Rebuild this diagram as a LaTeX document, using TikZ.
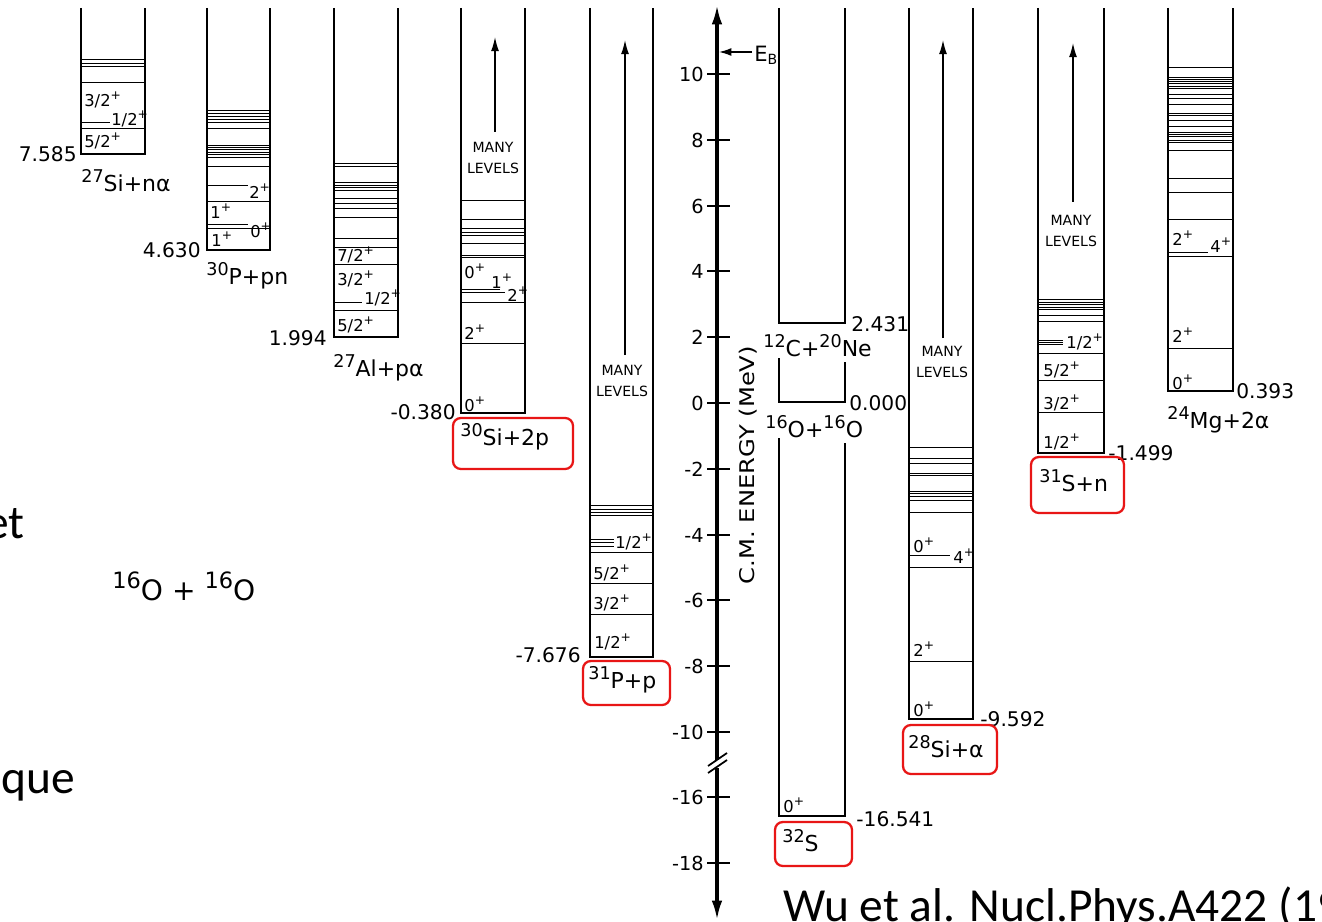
\documentclass[tikz,border=0pt]{standalone}
\usepackage{fontspec}
\setmainfont{DejaVu Sans}
\newfontfamily\slidefont{Carlito}
\newfontfamily\widefont[FakeStretch=1.2]{DejaVu Sans}
\usetikzlibrary{arrows.meta}
\definecolor{boxred}{RGB}{232,22,22}
\newcommand\fsLev{\fontsize{9.3}{10}\selectfont}
\newcommand\fsIso{\fontsize{12.5}{14}\selectfont}
\newcommand\fsNum{\fontsize{11.5}{13}\selectfont}
\newcommand\fsMany{\fontsize{8}{11.5}\selectfont}
\newcommand\fsTick{\fontsize{11}{12}\selectfont}
\newcommand\sps[1]{\raisebox{0.42em}{\scalebox{0.8}{#1}}}
\newcommand\pl{\raisebox{0.45em}{\scalebox{0.75}{+}}}
\newcommand\lvlcol[4]{%
  \draw[colline] (#1,8) -- (#1,#3) -- (#2,#3) -- (#2,8);
  \foreach \yy in {#4} \draw[lev] (#1,\yy) -- (#2,\yy);}
\newcommand\partlv[3]{%
  \foreach \yy in {#3} \draw[lev] (#1,\yy) -- (#2,\yy);}
\begin{document}
\begin{tikzpicture}[x=0.02cm,y=-0.02cm,
  colline/.style={line width=1.4pt, line join=miter},
  lev/.style={line width=0.5pt},
  spin/.style={font=\fsLev, inner sep=0pt, anchor=west},
  iso/.style={font=\fsIso, inner sep=0pt, anchor=west},
  num/.style={font=\fsNum, inner sep=0pt},
  many/.style={font=\fsMany, align=center, inner sep=0pt},
  redbox/.style={draw=boxred, line width=1.3pt, rounded corners=4.5pt},
  uparrow/.style={line width=0.8pt, -{Latex[length=8pt,width=4.5pt]}},
  axisline/.style={line width=1.8pt},
  tickline/.style={line width=1pt},
  ticklab/.style={font=\fsTick, inner sep=0pt, anchor=east},
  slide/.style={font=\slidefont\fontsize{27}{32}\selectfont, inner sep=0pt}]
\useasboundingbox (0,0) rectangle (1322,922);
\fill[white] (0,0) rectangle (1322,922);

% ---------- column 1: 27Si + n alpha
\lvlcol{81}{145}{154}{59,63,66,82,128}
\partlv{81}{110}{122}
\node[spin] (c1a) at (84,100) {3/2\pl};
\node[spin] (c1b) at (111,119) {1/2\pl};
\node[spin] (c1c) at (84,141) {5/2\pl};
\node[num, anchor=east] (n1) at (77,154) {7.585};
\node[iso] (l1) at (81,181) {\sps{27}Si+nα};

% ---------- column 2: 30P + pn
\lvlcol{207}{270}{250}{110,113,116,119,122,128,145,147,149,152,154,157,166,201,228}
\partlv{207}{248}{185,224}
\node[spin] (c2a) at (249,191) {2\pl};
\node[spin] (c2b) at (210,211) {1\pl};
\node[spin] (c2c) at (250,230) {0\pl};
\node[spin] (c2d) at (211,239) {1\pl};
\node[num, anchor=east] (n2) at (201,250) {4.630};
\node[iso] (l2) at (206,276) {\sps{30}P+pn};

% ---------- column 3: 27Al + p alpha
\lvlcol{334}{398}{337}{163,166,182,185,187,190,198,203,208,217,238,247,264,310}
\partlv{334}{362}{302}
\node[spin] (c3a) at (337,255) {7/2\pl};
\node[spin] (c3b) at (337,279) {3/2\pl};
\node[spin] (c3c) at (364,298) {1/2\pl};
\node[spin] (c3d) at (337,325) {5/2\pl};
\node[num, anchor=east] (n3) at (327,338) {1.994};
\node[iso] (l3) at (333,368) {\sps{27}Al+pα};

% ---------- column 4: 30Si + 2p
\lvlcol{461}{525}{413}{200,219,228,232,235,243,255,257,302,343}
\partlv{461}{500}{289}
\partlv{461}{505}{292}
\coordinate (a4t) at (495,132);
\coordinate (a4h) at (495,37);
\draw[uparrow] (a4t) -- (a4h);
\node[many] (m4) at (493,158) {MANY\\LEVELS};
\node[spin] (c4a) at (464,271) {0\pl};
\node[spin] (c4b) at (491,281) {1\pl};
\node[spin] (c4c) at (507,294) {2\pl};
\node[spin] (c4d) at (464,332) {2\pl};
\node[spin] (c4e) at (464,404) {0\pl};
\node[num, anchor=east] (n4) at (456,412) {-0.380};
\node[iso] (l4) at (460,437) {\sps{30}Si+2p};
\draw[redbox] (453,418) rectangle (573,469);

% ---------- column 5: 31P + p
\lvlcol{590}{653}{657}{505,509,512,515,552,583,614}
\partlv{590}{614}{539,542,546}
\coordinate (a5t) at (625,355);
\coordinate (a5h) at (625,40);
\draw[uparrow] (a5t) -- (a5h);
\node[many] (m5) at (622,381) {MANY\\LEVELS};
\node[spin] (c5a) at (615,542) {1/2\pl};
\node[spin] (c5b) at (593,573) {5/2\pl};
\node[spin] (c5c) at (593,603) {3/2\pl};
\node[spin] (c5d) at (594,642) {1/2\pl};
\node[num, anchor=east] (n5) at (581,655) {-7.676};
\node[iso] (l5) at (588,680) {\sps{31}P+p};
\draw[redbox] (583,661) rectangle (670,705);

% ---------- column 6: 12C+20Ne / 16O+16O / 32S
\draw[colline] (779,8) -- (779,323) -- (845,323) -- (845,8);
\draw[colline] (779,358) -- (779,402) -- (845,402) -- (845,362);
\draw[colline] (779,438) -- (779,816) -- (845,816) -- (845,443);
\node[num, anchor=west] (n6a) at (851,324) {2.431};
\node[iso] (l6a) at (763,346) {\sps{12}C+\sps{20}Ne};
\node[num, anchor=west] (n6b) at (849,403) {0.000};
\node[iso] (l6b) at (765,427) {\sps{16}O+\sps{16}O};
\node[spin] (c6a) at (783,805) {0\pl};
\node[num, anchor=west] (n6c) at (856,819) {-16.541};
\node[iso] (l6c) at (782,841) {\sps{32}S};
\draw[redbox] (775,822) rectangle (852,866);

% ---------- column 7: 28Si + alpha
\lvlcol{909}{973}{719}{447,458,463,473,475,491,493,496,500,512,567,661}
\partlv{909}{950}{555}
\coordinate (a7t) at (943,338);
\coordinate (a7h) at (943,40);
\draw[uparrow] (a7t) -- (a7h);
\node[many] (m7) at (942,362) {MANY\\LEVELS};
\node[spin] (c7a) at (913,545) {0\pl};
\node[spin] (c7b) at (953,556) {4\pl};
\node[spin] (c7c) at (913,649) {2\pl};
\node[spin] (c7d) at (913,709) {0\pl};
\node[num, anchor=west] (n7) at (980,719) {-9.592};
\node[iso] (l7) at (908,747) {\sps{28}Si+α};
\draw[redbox] (903,725) rectangle (997,774);

% ---------- column 8: 31S + n
\lvlcol{1038}{1104}{453}{299,302,304,307,309,315,321,353,380,412}
\partlv{1038}{1063}{340,342,344}
\coordinate (a8t) at (1073,202);
\coordinate (a8h) at (1073,43);
\draw[uparrow] (a8t) -- (a8h);
\node[many] (m8) at (1071,231) {MANY\\LEVELS};
\node[spin] (c8a) at (1066,342) {1/2\pl};
\node[spin] (c8b) at (1043,370) {5/2\pl};
\node[spin] (c8c) at (1043,403) {3/2\pl};
\node[spin] (c8d) at (1043,442) {1/2\pl};
\node[num, anchor=west] (n8) at (1108,453) {-1.499};
\node[iso] (l8) at (1039,481) {\sps{31}S+n};
\draw[redbox] (1031,457) rectangle (1124,513);

% ---------- column 9: 24Mg + 2 alpha
\lvlcol{1168}{1233}{391}{67,77,79,81,83,86,88,94,98,104,113,115,120,126,132,134,136,140,142,150,178,192,219,256,348}
\partlv{1168}{1208}{252}
\node[spin] (c9a) at (1172,238) {2\pl};
\node[spin] (c9b) at (1210,245) {4\pl};
\node[spin] (c9c) at (1172,335) {2\pl};
\node[spin] (c9d) at (1172,382) {0\pl};
\node[num, anchor=west] (n9) at (1236,391) {0.393};
\node[iso] (l9) at (1167,420) {\sps{24}Mg+2α};

% ---------- energy axis
\coordinate (axtop) at (717,5);
\coordinate (axbot) at (717,920);
\coordinate (brkA) at (717,760);
\coordinate (brkB) at (717,768);
\draw[axisline, -{Latex[length=11pt,width=6pt]}] (brkA) -- (axtop);
\draw[axisline, -{Latex[length=11pt,width=6pt]}] (brkB) -- (axbot);
\draw[line width=1pt] (708,766) -- (727,753);
\draw[line width=1pt] (708,773) -- (727,760);
\foreach \yy/\lab in {74/10,140/8,206/6,271/4,337/2,403/0,469/-2,535/-4,600/-6,666/-8,732/-10,797/-16,863/-18}{
  \draw[tickline] (707,\yy) -- (730,\yy);
  \node[ticklab] (tk\yy) at (704,\yy) {\lab};
}
\coordinate (ebtail) at (752,52);
\coordinate (ebhead) at (719,52);
\draw[line width=0.8pt, -{Latex[length=7pt,width=4.5pt]}] (ebtail) -- (ebhead);
\node[inner sep=0pt, anchor=west, font=\fontsize{12}{14}\selectfont] (eb) at (754,55) {E\textsubscript{B}};
\node[inner sep=0pt, rotate=90, font=\widefont\fontsize{11.5}{13}\selectfont] (axlab) at (748,465) {C.M. ENERGY (MeV)};

% ---------- slide texts
\node[slide, anchor=base east] (t1) at (25,538) {et};
\node[slide, anchor=base east] (t2) at (75,793) {que};
\node[inner sep=0pt, anchor=base west, font=\fontsize{16}{18}\selectfont] (t3) at (112,600) {\sps{16}O + \sps{16}O};
\node[slide, anchor=base west] (t4) at (783,921) {Wu et al. Nucl.Phys.A422 (19};
\end{tikzpicture}
\end{document}
